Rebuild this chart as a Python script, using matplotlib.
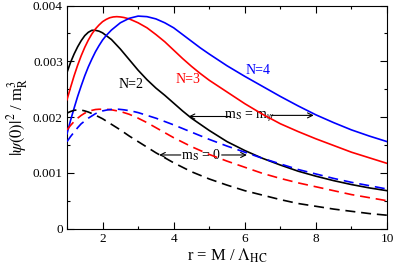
import matplotlib
matplotlib.use("Agg")
import matplotlib.pyplot as plt
from matplotlib.ticker import MultipleLocator, FixedLocator

plt.rcParams['font.family'] = ['Liberation Serif', 'DejaVu Serif']
plt.rcParams['mathtext.fontset'] = 'stix'

# ---- data (values in units of 1e-3) ----
x_n2_full = [1.0, 1.1, 1.2, 1.3, 1.4, 1.5, 1.6, 1.7, 1.8, 1.9, 2.0, 2.25, 2.5, 2.75, 3.0, 3.25, 3.5, 3.75, 4.0, 4.25, 4.5, 4.75, 5.0, 5.5, 6.0, 6.5, 7.0, 7.5, 8.0, 8.5, 9.0, 9.5, 10.0]
y_n2_full = [2.80, 2.98, 3.13, 3.26, 3.37, 3.46, 3.52, 3.555, 3.555, 3.54, 3.51, 3.39, 3.22, 3.03, 2.84, 2.67, 2.52, 2.39, 2.25, 2.11, 1.98, 1.87, 1.76, 1.56, 1.40, 1.26, 1.14, 1.03, 0.94, 0.86, 0.79, 0.73, 0.68]

x_n3_full = [1.0, 1.1, 1.2, 1.3, 1.4, 1.5, 1.6, 1.7, 1.8, 1.9, 2.0, 2.1, 2.2, 2.3, 2.4, 2.5, 2.6, 2.75, 3.0, 3.25, 3.5, 3.75, 4.0, 4.25, 4.5, 4.75, 5.0, 5.5, 6.0, 6.5, 7.0, 7.5, 8.0, 8.5, 9.0, 9.5, 10.0]
y_n3_full = [2.31, 2.53, 2.74, 2.93, 3.10, 3.25, 3.38, 3.49, 3.58, 3.65, 3.71, 3.75, 3.78, 3.795, 3.80, 3.795, 3.785, 3.76, 3.69, 3.60, 3.48, 3.35, 3.20, 3.05, 2.91, 2.78, 2.66, 2.45, 2.24, 2.05, 1.88, 1.74, 1.61, 1.49, 1.37, 1.27, 1.17]

x_n4_full = [1.0, 1.1, 1.2, 1.3, 1.4, 1.5, 1.6, 1.7, 1.8, 1.9, 2.0, 2.1, 2.25, 2.5, 2.75, 3.0, 3.25, 3.5, 3.75, 4.0, 4.25, 4.5, 4.75, 5.0, 5.5, 6.0, 6.5, 7.0, 7.5, 8.0, 8.5, 9.0, 9.5, 10.0]
y_n4_full = [1.70, 1.94, 2.16, 2.37, 2.56, 2.74, 2.90, 3.04, 3.17, 3.28, 3.38, 3.46, 3.56, 3.69, 3.77, 3.81, 3.80, 3.76, 3.69, 3.60, 3.48, 3.36, 3.24, 3.13, 2.92, 2.73, 2.55, 2.37, 2.20, 2.04, 1.90, 1.77, 1.66, 1.56]

x_n2_zero = [1.0, 1.1, 1.2, 1.3, 1.4, 1.5, 1.6, 1.75, 2.0, 2.25, 2.5, 2.75, 3.0, 3.25, 3.5, 3.75, 4.0, 4.5, 5.0, 5.5, 6.0, 6.5, 7.0, 7.5, 8.0, 8.5, 9.0, 9.5, 10.0]
y_n2_zero = [2.07, 2.10, 2.12, 2.13, 2.125, 2.11, 2.09, 2.05, 1.97, 1.87, 1.77, 1.66, 1.56, 1.46, 1.36, 1.27, 1.18, 1.02, 0.89, 0.78, 0.68, 0.60, 0.52, 0.45, 0.40, 0.35, 0.31, 0.27, 0.24]

x_n3_zero = [1.0, 1.1, 1.2, 1.3, 1.4, 1.5, 1.6, 1.7, 1.8, 1.9, 2.0, 2.1, 2.25, 2.5, 2.75, 3.0, 3.25, 3.5, 3.75, 4.0, 4.5, 5.0, 5.5, 6.0, 6.5, 7.0, 7.5, 8.0, 8.5, 9.0, 9.5, 10.0]
y_n3_zero = [1.77, 1.85, 1.92, 1.98, 2.03, 2.07, 2.10, 2.12, 2.135, 2.14, 2.14, 2.14, 2.13, 2.10, 2.05, 1.98, 1.90, 1.81, 1.72, 1.63, 1.47, 1.33, 1.21, 1.10, 0.99, 0.90, 0.82, 0.75, 0.68, 0.61, 0.555, 0.50]

x_n4_zero = [1.0, 1.1, 1.2, 1.3, 1.4, 1.5, 1.6, 1.7, 1.8, 1.9, 2.0, 2.15, 2.3, 2.45, 2.6, 2.8, 3.0, 3.25, 3.5, 3.75, 4.0, 4.5, 5.0, 5.5, 6.0, 6.5, 7.0, 7.5, 8.0, 8.5, 9.0, 9.5, 10.0]
y_n4_zero = [1.56, 1.65, 1.73, 1.81, 1.88, 1.93, 1.98, 2.02, 2.06, 2.09, 2.11, 2.13, 2.14, 2.14, 2.13, 2.11, 2.08, 2.03, 1.98, 1.92, 1.86, 1.73, 1.60, 1.48, 1.37, 1.26, 1.16, 1.06, 0.98, 0.90, 0.83, 0.77, 0.71]

x_ticks = [2, 4, 6, 8, 10]
y_ticks = [0, 0.001, 0.002, 0.003, 0.004]
y_tick_labels = ["0", "0.001", "0.002", "0.003", "0.004"]

fig = plt.figure(figsize=(3.95, 2.67), dpi=100)
ax = fig.add_axes([0.1696, 0.1438, 0.8101, 0.8356])

s = 1e-3
lw = 1.2
ax.plot(x_n2_full, [v * s for v in y_n2_full], color='black', lw=lw, zorder=3)
ax.plot(x_n3_full, [v * s for v in y_n3_full], color='#ff0000', lw=lw, zorder=3)
ax.plot(x_n4_full, [v * s for v in y_n4_full], color='#0000ff', lw=lw, zorder=3)
ax.plot(x_n2_zero, [v * s for v in y_n2_zero], color='black', lw=lw, dashes=(6, 3.5), zorder=3)
ax.plot(x_n3_zero, [v * s for v in y_n3_zero], color='#ff0000', lw=lw, dashes=(6, 3.5), zorder=3)
ax.plot(x_n4_zero, [v * s for v in y_n4_zero], color='#0000ff', lw=lw, dashes=(6, 3.5), zorder=3)

ax.set_xlim(1, 10)
ax.set_ylim(0, 0.004)
ax.xaxis.set_major_locator(FixedLocator(x_ticks))
ax.xaxis.set_minor_locator(MultipleLocator(1))
ax.yaxis.set_major_locator(FixedLocator(y_ticks))
ax.yaxis.set_minor_locator(MultipleLocator(0.0005))
ax.set_yticklabels(y_tick_labels)
ax.tick_params(which='both', direction='in', top=True, right=True, labelsize=9.5, width=0.8)
ax.tick_params(which='major', length=5, pad=3)
ax.tick_params(which='minor', length=2.5)
for sp in ax.spines.values():
    sp.set_linewidth(0.8)

ax.set_xlabel(r"r = M / $\Lambda_{\mathrm{HC}}$", fontsize=12, labelpad=1)
ax.set_ylabel(r"$|\psi(0)|^2$ / m$_\mathrm{R}^3$", fontsize=12, labelpad=2)

ax.text(2.80, 0.00258, "N=2", color='black', fontsize=10, ha='center', va='center', zorder=1)
ax.text(4.41, 0.00267, "N=3", color='#ff0000', fontsize=10, ha='center', va='center', zorder=1)
ax.text(6.38, 0.00283, "N=4", color='#0000ff', fontsize=10, ha='center', va='center', zorder=1)

arrow = dict(arrowstyle='->', color='black', lw=0.8, shrinkA=0, shrinkB=0, mutation_scale=9)
ax.text(6.15, 0.00201, r"m$_\mathrm{S}$ = m$_\psi$", fontsize=10, ha='center', va='center', zorder=1)
ax.annotate("", xy=(4.42, 0.00201), xytext=(5.6, 0.00201), arrowprops=arrow, zorder=1)
ax.annotate("", xy=(7.94, 0.00203), xytext=(6.75, 0.00203), arrowprops=arrow, zorder=1)

ax.text(4.77, 0.00132, r"m$_\mathrm{S}$ = 0", fontsize=10, ha='center', va='center', zorder=1)
ax.annotate("", xy=(3.59, 0.00132), xytext=(4.2, 0.00132), arrowprops=arrow, zorder=1)
ax.annotate("", xy=(6.06, 0.00132), xytext=(5.35, 0.00132), arrowprops=arrow, zorder=1)

fig.savefig("out.png", dpi=100)
